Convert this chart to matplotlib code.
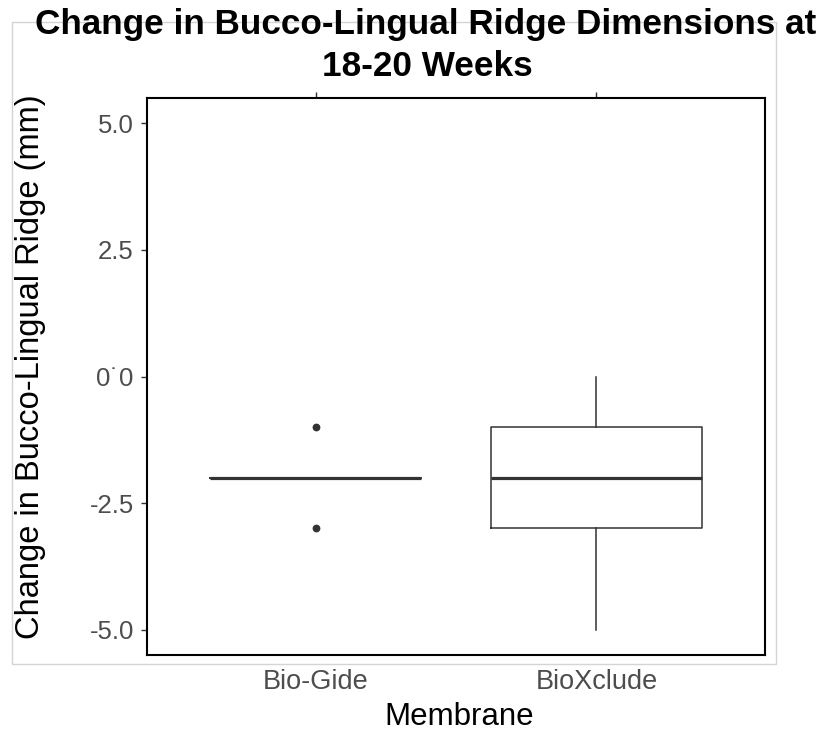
import matplotlib
matplotlib.use("Agg")
import matplotlib.pyplot as plt
from matplotlib.patches import Rectangle

plt.rcParams['font.family'] = ['Liberation Sans', 'DejaVu Sans']

# ---- data ----
membranes = ["Bio-Gide", "BioXclude"]
bio_gide = [-3, -2, -2, -2, -2, -2, -1]
bioxclude = [-5, -3, -3, -2, -1, -1, 0]
y_ticks = [-5.0, -2.5, 0.0, 2.5, 5.0]
y_tick_labels = ["-5.0", "-2.5", "0\u02d90", "2.5", "5.0"]
title_line1 = "Change in Bucco-Lingual Ridge Dimensions at"
title_line2 = "18-20 Weeks"
y_label = "Change in Bucco-Lingual Ridge (mm)"
x_label = "Membrane"

W, H = 825, 740
fig = plt.figure(figsize=(W / 100, H / 100), dpi=100)

# outer light-gray plot border
fig.patches.append(Rectangle((12 / W, 1 - 664 / H), (776 - 12) / W, (664 - 22) / H,
                             transform=fig.transFigure, fill=False,
                             edgecolor="#D4D4D4", lw=1.0, zorder=0))

ax = fig.add_axes([147 / W, 1 - 655 / H, (765 - 147) / W, (655 - 98) / H])
ax.set_facecolor("white")

line_col = "#333333"
ax.boxplot([bio_gide, bioxclude], positions=[1, 2], widths=0.75, whis=1.5,
           showcaps=False,
           boxprops=dict(color=line_col, lw=1.1),
           whiskerprops=dict(color=line_col, lw=1.1),
           medianprops=dict(color=line_col, lw=2.3, solid_capstyle='butt'),
           flierprops=dict(marker='o', markersize=4.6, markerfacecolor=line_col,
                           markeredgecolor=line_col))

ax.set_xlim(0.4, 2.6)
ax.set_ylim(-5.5, 5.5)
ax.set_xticks([1, 2])
ax.set_xticklabels(membranes)
ax.set_yticks(y_ticks)
ax.set_yticklabels(y_tick_labels)

for s in ax.spines.values():
    s.set_color("black")
    s.set_linewidth(1.5)

ax.tick_params(axis='x', bottom=False, top=True, labelbottom=True, labeltop=False,
               length=4, width=1.0, color=line_col, labelsize=19.5,
               labelcolor="#4D4D4D", pad=6)
ax.tick_params(axis='y', length=4.5, width=1.0, color=line_col, labelsize=18.5,
               labelcolor="#4D4D4D", pad=5)

fig.text(426 / W, 1 - 34 / H, title_line1, ha='center', va='baseline',
         fontsize=25.3, fontweight='bold', color='black')
fig.text(427 / W, 1 - 76 / H, title_line2, ha='center', va='baseline',
         fontsize=25.3, fontweight='bold', color='black')

fig.text(31 / W, 1 - 367 / H, y_label, rotation=90, ha='center', va='center',
         fontsize=23.5, color='black')
fig.text(459 / W, 1 - 725 / H, x_label, ha='center', va='baseline',
         fontsize=22.5, color='black')

fig.savefig("out.png", dpi=100, facecolor="white")
